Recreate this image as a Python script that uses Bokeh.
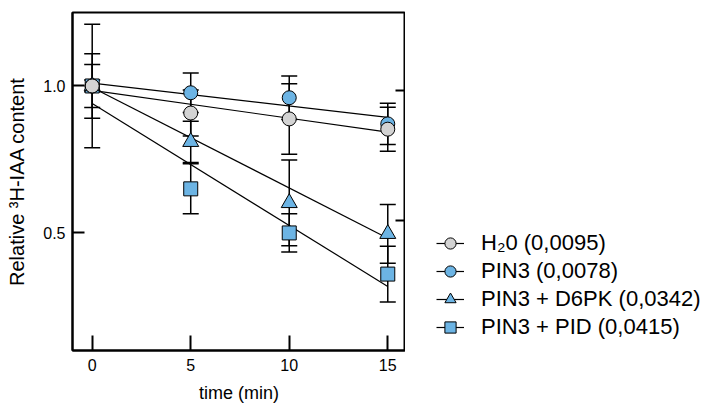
from bokeh.plotting import figure
from bokeh.layouts import row
from bokeh.models import (Range1d, FixedTicker, LinearAxis, Legend, LegendItem,
                          Whisker, TeeHead, ColumnDataSource, CustomJSTickFormatter)
from bokeh.embed import file_html
from bokeh.resources import INLINE

# ---- data ----
times = [0, 5, 10, 15]
h2o = [1.0, 0.908, 0.888, 0.853]
h2o_err = [0.073, 0.078, 0.12, 0.075]
pin3 = [1.0, 0.977, 0.96, 0.871]
pin3_err = [0.11, 0.067, 0.074, 0.07]
d6pk = [1.0, 0.81, 0.602, 0.497]
d6pk_err = [0.21, 0.07, 0.146, 0.10]
pid = [1.0, 0.65, 0.5, 0.36]
pid_err = [0.02, 0.085, 0.065, 0.095]

fit_x = [0, 15]
h2o_fit = [0.985, 0.843]
pin3_fit = [1.01, 0.893]
d6pk_fit = [0.995, 0.482]
pid_fit = [0.94, 0.318]

labels = ["H\u20820 (0,0095)", "PIN3 (0,0078)", "PIN3 + D6PK (0,0342)", "PIN3 + PID (0,0415)"]
x_ticks = [0, 5, 10, 15]
y_ticks = [0.5, 1.0]
right_ticks = [0.985, 0.542]

FONT = "Liberation Sans"
GRAY = "#d3d3d3"
BLUE = "#6cb4e4"

p = figure(frame_width=333, frame_height=338, output_backend="svg", toolbar_location=None,
           x_range=Range1d(-1, 15.9), y_range=Range1d(0.1, 1.25),
           min_border_left=72, min_border_right=0, min_border_top=12, min_border_bottom=53)
p.background_fill_color = "white"
p.border_fill_color = "white"
p.outline_line_color = "black"
p.outline_line_width = 2
p.xgrid.visible = False
p.ygrid.visible = False

for ax in (p.xaxis[0], p.yaxis[0]):
    ax.axis_line_width = 2
    ax.major_tick_line_width = 2
    ax.major_tick_out = 0
    ax.minor_tick_line_color = None
    ax.major_label_text_font = FONT
    ax.major_label_text_font_size = "16px"
    ax.major_label_text_color = "black"
    ax.axis_label_text_font = FONT
    ax.axis_label_text_font_style = "normal"
    ax.axis_label_text_color = "black"

p.xaxis.ticker = FixedTicker(ticks=x_ticks)
p.xaxis.major_tick_in = 15
p.xaxis.major_label_standoff = 8
p.xaxis.axis_label = "time (min)"
p.xaxis.axis_label_text_font_size = "18px"
p.xaxis.axis_label_standoff = 9

p.yaxis.ticker = FixedTicker(ticks=y_ticks)
p.yaxis.formatter = CustomJSTickFormatter(code="return tick.toFixed(1);")
p.yaxis.major_tick_in = 12
p.yaxis.major_label_standoff = 7
p.yaxis.axis_label = "Relative \u00b3H-IAA content"
p.yaxis.axis_label_text_font_size = "20px"
p.yaxis.axis_label_standoff = 12

rax = LinearAxis(ticker=FixedTicker(ticks=right_ticks), major_tick_in=10, major_tick_out=0,
                 major_tick_line_width=2, axis_line_width=2, minor_tick_line_color=None,
                 major_label_text_font_size="0px", major_label_standoff=0)
rax.major_label_overrides = {t: "" for t in right_ticks}
p.add_layout(rax, "right")

series = [
    (h2o, h2o_err, h2o_fit, "circle", GRAY, 14),
    (pin3, pin3_err, pin3_fit, "circle", BLUE, 14),
    (d6pk, d6pk_err, d6pk_fit, "triangle", BLUE, 16),
    (pid, pid_err, pid_fit, "square", BLUE, 14),
]

for vals, err, fit, mk, col, sz in series:
    p.line(fit_x, fit, line_color="black", line_width=1.2)

for idx in [3, 2, 1, 0]:
    vals, err, fit, mk, col, sz = series[idx]
    src = ColumnDataSource(dict(x=times, y=vals,
                                up=[v + e for v, e in zip(vals, err)],
                                lo=[v - e for v, e in zip(vals, err)]))
    w = Whisker(base="x", upper="up", lower="lo", source=src,
                line_color="black", line_width=1.5,
                upper_head=TeeHead(size=16, line_width=1.5, line_color="black"),
                lower_head=TeeHead(size=16, line_width=1.5, line_color="black"))
    p.add_layout(w)
    p.scatter("x", "y", source=src, marker=mk, size=sz,
              fill_color=col, line_color="black", line_width=1)

# ---- legend panel (a second, axis-less figure whose ranges keep the series out of view) ----
q = figure(width=310, height=403, output_backend="svg", toolbar_location=None,
           x_range=Range1d(100, 101), y_range=Range1d(100, 101),
           x_axis_location=None, y_axis_location=None,
           min_border=0)
q.outline_line_color = None
q.xgrid.visible = False
q.ygrid.visible = False
q.background_fill_color = "white"
q.border_fill_color = "white"

items = []
for i, (vals, err, fit, mk, col, sz) in enumerate(series):
    lr = q.line(fit_x, fit, line_color="black", line_width=1.2)
    sr = q.scatter(times, vals, marker=mk, size=sz - 1, fill_color=col,
                   line_color="black", line_width=1)
    items.append(LegendItem(label=labels[i], renderers=[lr, sr]))

legend = Legend(items=items, location=(31, 7), glyph_width=28, glyph_height=28,
                label_standoff=17, spacing=0, padding=4, margin=0,
                border_line_color=None, background_fill_alpha=0,
                label_text_font=FONT, label_text_font_size="22px", label_text_color="black")
q.add_layout(legend)

layout = row(p, q)
open("out.html", "w").write(file_html(layout, INLINE))
